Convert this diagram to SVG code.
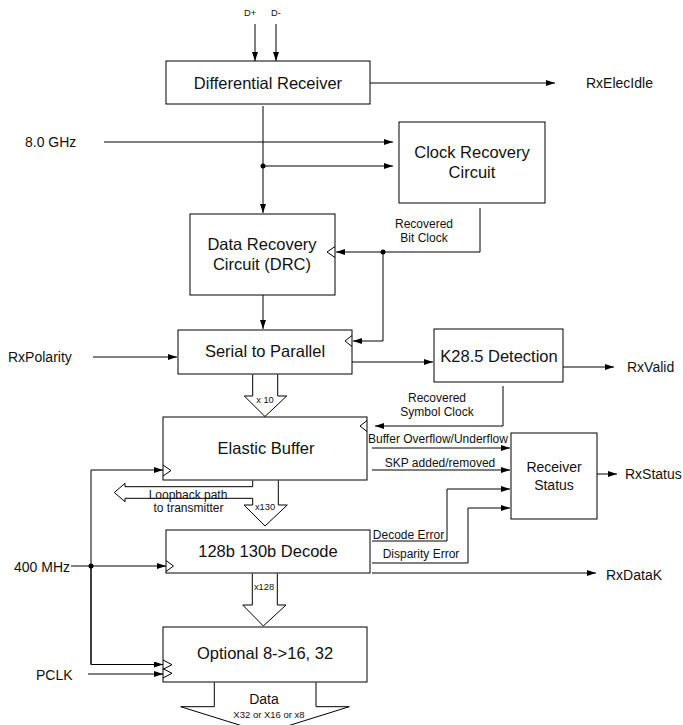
<svg xmlns="http://www.w3.org/2000/svg" width="683" height="725" viewBox="0 0 683 725">
<style>
.box{fill:#fff;stroke:#000;stroke-width:1}
.ln{fill:none;stroke:#000;stroke-width:1}
.arr{fill:none;stroke:#000;stroke-width:1;marker-end:url(#ah)}
.fat{fill:#fff;stroke:#000;stroke-width:1}
.clk{fill:none;stroke:#000;stroke-width:1}
.dot{fill:#000}
text{font-family:"Liberation Sans",Arial,sans-serif;fill:#111}
.big{font-size:16.5px;text-anchor:middle}
.mid{font-size:14px}
.sm{font-size:12px;text-anchor:middle}
.xs{font-size:9.3px;text-anchor:middle}
</style>
<defs>
<marker id="ah" markerUnits="userSpaceOnUse" markerWidth="10" markerHeight="7" refX="9" refY="3" orient="auto">
<path d="M0,0 L9,3 L0,6 z" fill="#000"/>
</marker>
</defs>

<g id="connectors">
<path class="arr" d="M255,24 V61"/>
<path class="arr" d="M276,24 V61"/>
<path class="arr" d="M370,83 H555"/>
<path class="arr" d="M104,142 H393"/>
<path class="arr" d="M263,106 V213"/>
<path class="arr" d="M263,166 H393"/>
<circle class="dot" cx="263" cy="166" r="2.5"/>
<path class="arr" d="M480,208 V252 H336"/>
<circle class="dot" cx="383" cy="252" r="2.5"/>
<path class="arr" d="M383,252 V341 H353"/>
<path class="arr" d="M263,295 V329"/>
<path class="arr" d="M93,357 H177"/>
<path class="arr" d="M352,362 H433"/>
<path class="arr" d="M563,367 H614"/>
<path class="arr" d="M503,386 V426 H375"/>
<path class="arr" d="M372,448 H510"/>
<path class="arr" d="M372,470 H510"/>
<path class="arr" d="M372,541 H447 V489 H510"/>
<path class="arr" d="M372,563 H468 V508 H510"/>
<path class="arr" d="M372,573 H596"/>
<path class="arr" d="M597,474 H617"/>
<path class="arr" d="M71,566 H166"/>
<path class="arr" d="M91,664.5 V470 H163"/>
<path class="arr" d="M91,566 V664.5 H163"/>
<circle class="dot" cx="91" cy="566" r="2.5"/>
<path class="arr" d="M88,674 H163"/>
<!-- bus arrows -->
<path class="fat" d="M252.7,374.5 V396 H244.3 L265,416.5 L286.7,396 H277.7 V374.5"/>
<path class="fat" d="M252.7,480.5 V486.7 H125 V483.3 L114.3,492.5 L125,501.7 V498.3 H252.7 V505 H244 L265,526 L287.3,505 H278.3 V480.5"/>
<path class="fat" d="M252.3,573.5 V605 H242.7 L263.3,626 L286,605 H277.3 V573.5"/>
<path class="fat" d="M214.3,682.5 V706.7 H180.7 L265,733 L349.3,706.7 H316 V682.5"/>
</g>

<g id="diff-receiver">
<rect class="box" x="166" y="61" width="204" height="43"/>
<text class="big" x="268" y="88.5">Differential Receiver</text>
</g>
<g id="clock-recovery">
<rect class="box" x="399" y="122" width="146" height="81"/>
<text class="big" x="472" y="158">Clock Recovery</text>
<text class="big" x="472" y="177.5">Circuit</text>
</g>
<g id="drc">
<rect class="box" x="190" y="214" width="145" height="81"/>
<text class="big" x="262" y="250">Data Recovery</text>
<text class="big" x="262" y="270">Circuit (DRC)</text>
<polyline class="clk" points="335,246.5 327,252 335,257.5"/>
</g>
<g id="serial-to-parallel">
<rect class="box" x="178" y="330" width="174" height="44"/>
<text class="big" x="265" y="357">Serial to Parallel</text>
<polyline class="clk" points="352,335.5 345,341 352,346.5"/>
</g>
<g id="k285">
<rect class="box" x="434" y="329" width="129" height="53"/>
<text class="big" x="499" y="362">K28.5 Detection</text>
</g>
<g id="elastic-buffer">
<rect class="box" x="163" y="417" width="204" height="63"/>
<text class="big" x="266" y="453.5">Elastic Buffer</text>
<polyline class="clk" points="367,420.5 360,426 367,431.5"/>
<polyline class="clk" points="163,465 171,470.5 163,476"/>
</g>
<g id="receiver-status">
<rect class="box" x="511" y="433" width="86" height="86"/>
<text class="mid" x="554" y="472" text-anchor="middle">Receiver</text>
<text class="mid" x="554" y="489.5" text-anchor="middle">Status</text>
</g>
<g id="decode">
<rect class="box" x="166" y="530" width="204" height="43"/>
<text class="big" x="268" y="557">128b 130b Decode</text>
<polyline class="clk" points="166,560.5 173.5,566 166,571.5"/>
</g>
<g id="optional">
<rect class="box" x="163" y="627" width="204" height="55"/>
<text class="big" x="265" y="659">Optional 8-&gt;16, 32</text>
<polyline class="clk" points="163,660 172,664.7 163,669.4"/>
<polyline class="clk" points="163,668.6 172,673.3 163,678"/>
</g>

<g id="labels">
<text class="xs" x="250" y="16">D+</text>
<text class="xs" x="276" y="16">D-</text>
<text class="mid" x="586" y="88">RxElecIdle</text>
<text class="mid" x="25" y="146.5">8.0 GHz</text>
<text class="sm" x="424" y="228">Recovered</text>
<text class="sm" x="424" y="241.5">Bit Clock</text>
<text class="mid" x="8" y="361.5">RxPolarity</text>
<text class="mid" x="627" y="372">RxValid</text>
<text class="xs" x="265" y="403">x 10</text>
<text class="sm" x="437" y="402">Recovered</text>
<text class="sm" x="437" y="415.5">Symbol Clock</text>
<text class="sm" x="438" y="442.5">Buffer Overflow/Underflow</text>
<text class="sm" x="440" y="466.5">SKP added/removed</text>
<text class="mid" x="625" y="479">RxStatus</text>
<text class="sm" x="188" y="498.5">Loopback path</text>
<text class="sm" x="188.5" y="512">to transmitter</text>
<text class="xs" x="265" y="510">x130</text>
<text class="sm" x="408.5" y="538.5">Decode Error</text>
<text class="sm" x="421" y="558">Disparity Error</text>
<text class="mid" x="14" y="571.5">400 MHz</text>
<text class="mid" x="606" y="579.5">RxDataK</text>
<text class="xs" x="264" y="589.5">x128</text>
<text class="mid" x="36" y="680">PCLK</text>
<text x="264" y="704" font-size="14" text-anchor="middle">Data</text>
<text x="269" y="717.5" font-size="9.5" text-anchor="middle">X32 or X16 or x8</text>
</g>
</svg>
